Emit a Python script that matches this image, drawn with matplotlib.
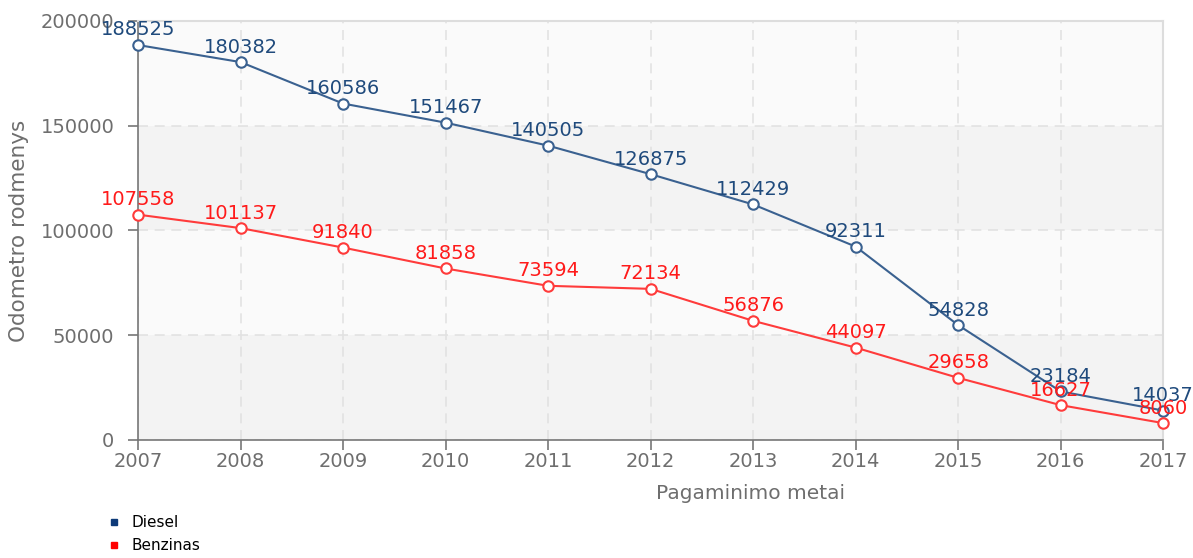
import matplotlib
matplotlib.use('Agg')
import matplotlib.pyplot as plt

years = [2007, 2008, 2009, 2010, 2011, 2012, 2013, 2014, 2015, 2016, 2017]
diesel = [188525, 180382, 160586, 151467, 140505, 126875, 112429, 92311, 54828, 23184, 14037]
benzinas = [107558, 101137, 91840, 81858, 73594, 72134, 56876, 44097, 29658, 16627, 8060]
y_ticks = [0, 50000, 100000, 150000, 200000]

DIESEL_LINE = '#3a6190'
DIESEL_TEXT = '#1f4a7c'
DIESEL_KEY = '#0d3a78'
BENZ_LINE = '#ff3b3b'
BENZ_TEXT = '#ff1a1a'
GRID = '#e2e2e2'
AXIS = '#777777'
TICK_TEXT = '#6e6e6e'

plt.rcParams['font.family'] = ['DejaVu Sans']

fig = plt.figure(figsize=(11.93, 5.58), dpi=100)
ax = fig.add_axes([0.1157, 0.2115, 0.8593, 0.7509])

# alternating horizontal bands
for i in range(len(y_ticks) - 1):
    shade = '#f3f3f3' if i % 2 == 0 else '#fafafa'
    ax.axhspan(y_ticks[i], y_ticks[i + 1], color=shade, zorder=0, lw=0)

ax.set_xlim(years[0], years[-1])
ax.set_ylim(0, 200000)
ax.set_xticks(years)
ax.set_yticks(y_ticks)
ax.grid(True, color=GRID, linestyle=(0, (6, 4)), linewidth=1.2, zorder=1)

for name, vals, lc, tc in [('Diesel', diesel, DIESEL_LINE, DIESEL_TEXT),
                           ('Benzinas', benzinas, BENZ_LINE, BENZ_TEXT)]:
    ax.plot(years, vals, color=lc, lw=1.5, marker='o', markersize=7.5,
            markerfacecolor='white', markeredgecolor=lc, markeredgewidth=1.5,
            zorder=3, clip_on=False)
    for x, v in zip(years, vals):
        ax.annotate(str(v), (x, v), textcoords='offset points', xytext=(0, 4),
                    ha='center', va='bottom', fontsize=14, color=tc, zorder=4,
                    annotation_clip=False)

for side in ['top', 'right']:
    ax.spines[side].set_color('#dddddd')
    ax.spines[side].set_linewidth(1.5)
for side in ['left', 'bottom']:
    ax.spines[side].set_color(AXIS)
    ax.spines[side].set_linewidth(1.2)

ax.tick_params(axis='both', direction='out', length=7, width=1.2, color=AXIS,
               labelcolor=TICK_TEXT, labelsize=14)
ax.tick_params(axis='x', pad=2)
ax.tick_params(axis='y', pad=10)

ax.set_xlabel('Pagaminimo metai', fontsize=14.5, color=TICK_TEXT)
ax.xaxis.set_label_coords(0.597, -0.105)
ax.set_ylabel('Odometro rodmenys', fontsize=15.5, color=TICK_TEXT)
ax.yaxis.set_label_coords(-0.106, 0.5)

handles = [plt.Line2D([], [], marker='s', linestyle='', color=DIESEL_KEY,
                      markersize=5, label='Diesel'),
           plt.Line2D([], [], marker='s', linestyle='', color='#ff0000',
                      markersize=5, label='Benzinas')]
fig.legend(handles=handles, loc='upper left', bbox_to_anchor=(0.087, 0.088),
           frameon=False, fontsize=11, handlelength=0.6, handletextpad=0.8,
           labelspacing=0.55, borderaxespad=0)

fig.savefig('out.png', dpi=100, facecolor='white')
